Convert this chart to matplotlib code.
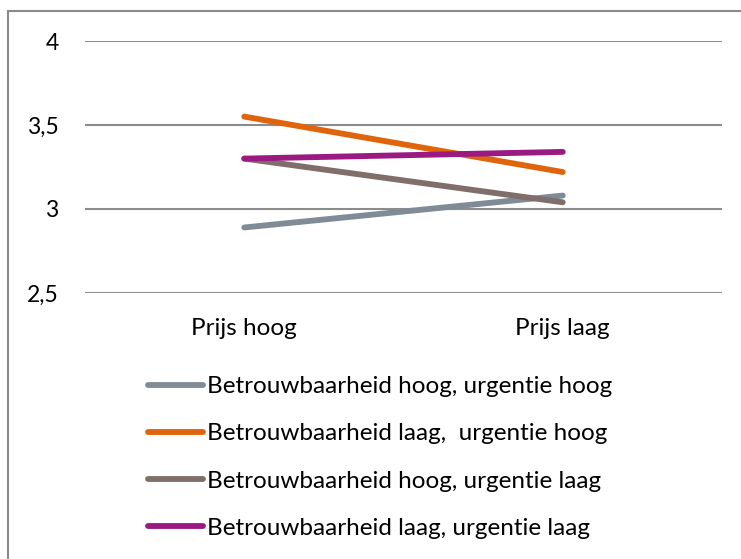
import matplotlib.pyplot as plt
from matplotlib.patches import Rectangle

categories = ["Prijs hoog", "Prijs laag"]
series_labels = [
    "Betrouwbaarheid hoog, urgentie hoog",
    "Betrouwbaarheid laag,  urgentie hoog",
    "Betrouwbaarheid hoog, urgentie laag",
    "Betrouwbaarheid laag, urgentie laag",
]
hoog_hoog = [2.89, 3.08]
laag_hoog = [3.55, 3.22]
hoog_laag = [3.30, 3.04]
laag_laag = [3.30, 3.34]
y_ticks = [2.5, 3, 3.5, 4]
y_tick_labels = ["2,5", "3", "3,5", "4"]

colors = ["#808B98", "#DF640C", "#7F6E69", "#9A1A82"]

plt.rcParams["font.family"] = ["Lato", "DejaVu Sans"]

W, H = 741, 559
fig = plt.figure(figsize=(W / 100, H / 100), dpi=100)
ax = fig.add_axes([85 / W, 1 - 293 / H, (722 - 85) / W, (293 - 41) / H])

x = range(len(categories))
lines = []
for vals, col, lab in zip([hoog_hoog, laag_hoog, hoog_laag, laag_laag], colors, series_labels):
    (ln,) = ax.plot(x, vals, color=col, lw=4.2, solid_capstyle="round", label=lab, zorder=3)
    lines.append(ln)

ax.set_xlim(-0.5, 1.5)
ax.set_ylim(2.5, 4)
ax.set_yticks(y_ticks)
ax.set_yticklabels(y_tick_labels)
ax.set_xticks(list(x))
ax.set_xticklabels(categories)
ax.tick_params(length=0, labelsize=17.5, colors="black")
ax.tick_params(axis="y", pad=19, labelsize=16.5)
ax.tick_params(axis="x", pad=18)
ax.yaxis.grid(True, color="#8c8c8c", lw=1.5)
ax.set_axisbelow(True)
for s in ax.spines.values():
    s.set_visible(False)

leg = fig.legend(
    handles=lines,
    loc="upper left",
    bbox_to_anchor=(148 / W, 1 - 376 / H),
    frameon=False,
    fontsize=17.5,
    handlelength=2.25,
    handletextpad=0.17,
    labelspacing=1.08,
    borderpad=0,
    borderaxespad=0,
)

# outer chart border (left and top visible, runs off the canvas right and bottom)
fig.add_artist(Rectangle((8 / W, -0.05), 1.1, 1 - 11 / H + 0.05, transform=fig.transFigure,
                         fill=False, ec="#8a8a8a", lw=1.5))

fig.savefig("out.png", dpi=100)
